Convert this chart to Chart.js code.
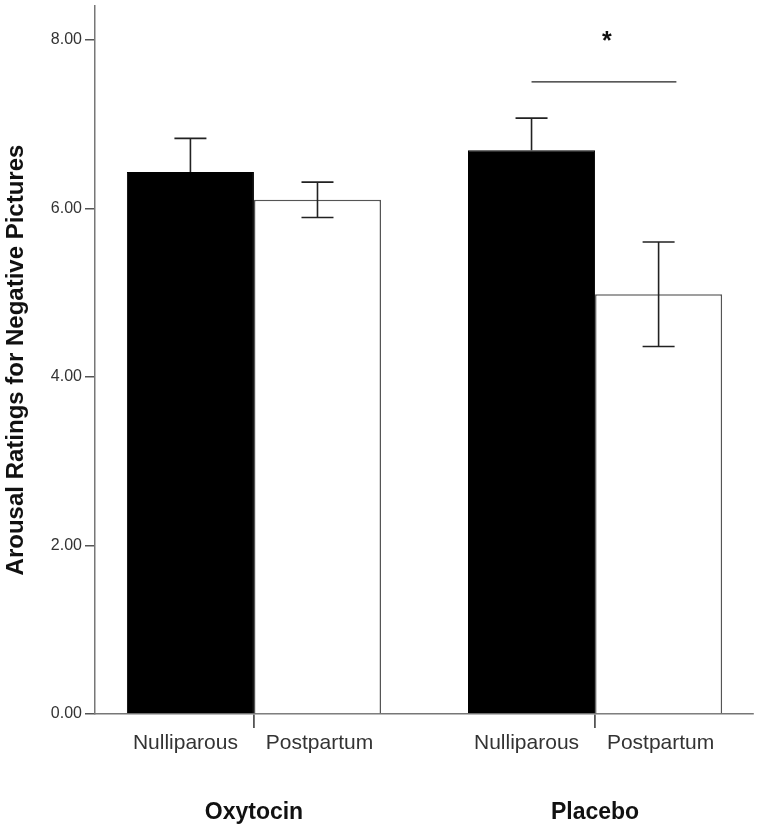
<!DOCTYPE html>
<html lang="en">
  <head>
    <meta charset="UTF-8" />
    <title>Arousal Ratings for Negative Pictures</title>
    <style>
      body {
        margin: 0;
        background: #fff;
      }
      .chart-container {
        position: relative;
        width: 760px;
        height: 829px;
      }
    </style>
  </head>
  <body>
    <div class="chart-container">
      <canvas id="arousalChart" width="760" height="829"></canvas>
    </div>

    <script src="https://cdn.jsdelivr.net/npm/chart.js"></script>
    <script>
      // values
      const groups = ["Oxytocin", "Placebo"];
      const subgroups = ["Nulliparous", "Postpartum"];
      const nulliparousMeans = [6.43, 6.69];
      const postpartumMeans = [6.1, 4.98];
      const nulliparousErr = [0.4, 0.38];
      const postpartumErr = [0.21, 0.62];
      const yTickValues = [0, 2, 4, 6, 8];
      const sigLevel = 7.5;
      const sigMark = "*";

      const fontFamily = "'Liberation Sans', Arial, sans-serif";

      // error bars, sub-category labels and the significance marker
      const extrasPlugin = {
        id: "extras",
        afterDatasetsDraw(chart) {
          const ctx = chart.ctx;
          const yScale = chart.scales.y;
          const errs = [nulliparousErr, postpartumErr];
          const means = [nulliparousMeans, postpartumMeans];
          ctx.save();
          ctx.strokeStyle = "#222";
          ctx.lineWidth = 1.6;
          chart.data.datasets.forEach((ds, di) => {
            const dark = ds.backgroundColor === "#000";
            chart.getDatasetMeta(di).data.forEach((bar, i) => {
              const hi = yScale.getPixelForValue(means[di][i] + errs[di][i]);
              const lo = yScale.getPixelForValue(means[di][i] - errs[di][i]);
              const half = 16;
              ctx.beginPath();
              ctx.moveTo(bar.x, hi);
              ctx.lineTo(bar.x, dark ? bar.y : lo);
              ctx.moveTo(bar.x - half, hi);
              ctx.lineTo(bar.x + half, hi);
              if (!dark) {
                ctx.moveTo(bar.x - half, lo);
                ctx.lineTo(bar.x + half, lo);
              }
              ctx.stroke();
            });
          });
          ctx.restore();
        },
        afterDraw(chart) {
          const ctx = chart.ctx;
          const area = chart.chartArea;
          const nudge = [-5, 2];
          ctx.save();
          ctx.fillStyle = "#333";
          ctx.font = "21px " + fontFamily;
          ctx.textAlign = "center";
          ctx.textBaseline = "middle";
          chart.data.datasets.forEach((ds, di) => {
            chart.getDatasetMeta(di).data.forEach((bar) => {
              ctx.fillText(subgroups[di], bar.x + nudge[di], area.bottom + 29);
            });
          });

          // significance bar over the placebo group
          const a = chart.getDatasetMeta(0).data[1];
          const b = chart.getDatasetMeta(1).data[1];
          const y = chart.scales.y.getPixelForValue(sigLevel);
          const x1 = a.x;
          const x2 = b.x + b.width * 0.14;
          ctx.strokeStyle = "#222";
          ctx.lineWidth = 1.4;
          ctx.beginPath();
          ctx.moveTo(x1, y);
          ctx.lineTo(x2, y);
          ctx.stroke();
          ctx.fillStyle = "#111";
          ctx.font = "bold 25px " + fontFamily;
          ctx.fillText(sigMark, (x1 + x2) / 2 + 3, y - 40);
          ctx.restore();
        },
      };

      const ctx = document.getElementById("arousalChart").getContext("2d");
      new Chart(ctx, {
        type: "bar",
        data: {
          datasets: [
            {
              label: subgroups[0],
              data: nulliparousMeans.map((v, i) => ({ x: i, y: v })),
              backgroundColor: "#000",
              borderColor: "#000",
              borderWidth: 1,
            },
            {
              label: subgroups[1],
              data: postpartumMeans.map((v, i) => ({ x: i, y: v })),
              backgroundColor: "#fff",
              borderColor: "#555",
              borderWidth: 1.5,
            },
          ],
        },
        options: {
          responsive: false,
          animation: false,
          categoryPercentage: 0.745,
          barPercentage: 1,
          layout: { padding: { top: 6, right: 7, left: 0, bottom: 0 } },
          plugins: {
            legend: { display: false },
            tooltip: { enabled: false },
          },
          scales: {
            x: {
              type: "linear",
              min: -0.466,
              max: 1.463,
              offset: false,
              afterBuildTicks: (s) => {
                s.ticks = groups.map((g, i) => ({ value: i }));
              },
              afterFit: (s) => {
                s.height = 115;
                s.paddingLeft = 0;
                s.paddingRight = 0;
              },
              grid: {
                offset: false,
                drawOnChartArea: false,
                drawTicks: true,
                tickLength: 14,
                color: "#555",
                lineWidth: 1.8,
              },
              border: { color: "#777", width: 1.5 },
              ticks: {
                callback: (v) => groups[v] ?? "",
                padding: 71,
                color: "#111",
                font: { family: fontFamily, size: 23, weight: "bold" },
                maxRotation: 0,
              },
            },
            y: {
              min: 0,
              max: 8.4,
              afterBuildTicks: (s) => {
                s.ticks = yTickValues.map((v) => ({ value: v }));
              },
              afterFit: (s) => {
                s.width = 95;
                s.paddingTop = 0;
                s.paddingBottom = 0;
              },
              grid: {
                drawOnChartArea: false,
                drawTicks: true,
                tickLength: 10,
                color: "#555",
                lineWidth: 1.5,
              },
              border: { color: "#777", width: 1.5 },
              ticks: {
                callback: (v) => Number(v).toFixed(2),
                padding: 3,
                color: "#333",
                font: { family: fontFamily, size: 16 },
              },
              title: {
                display: true,
                text: "Arousal Ratings for Negative Pictures",
                color: "#111",
                font: { family: fontFamily, size: 24, weight: "bold" },
                padding: { top: 2, bottom: 0 },
              },
            },
          },
        },
        plugins: [extrasPlugin],
      });
    </script>
  </body>
</html>
